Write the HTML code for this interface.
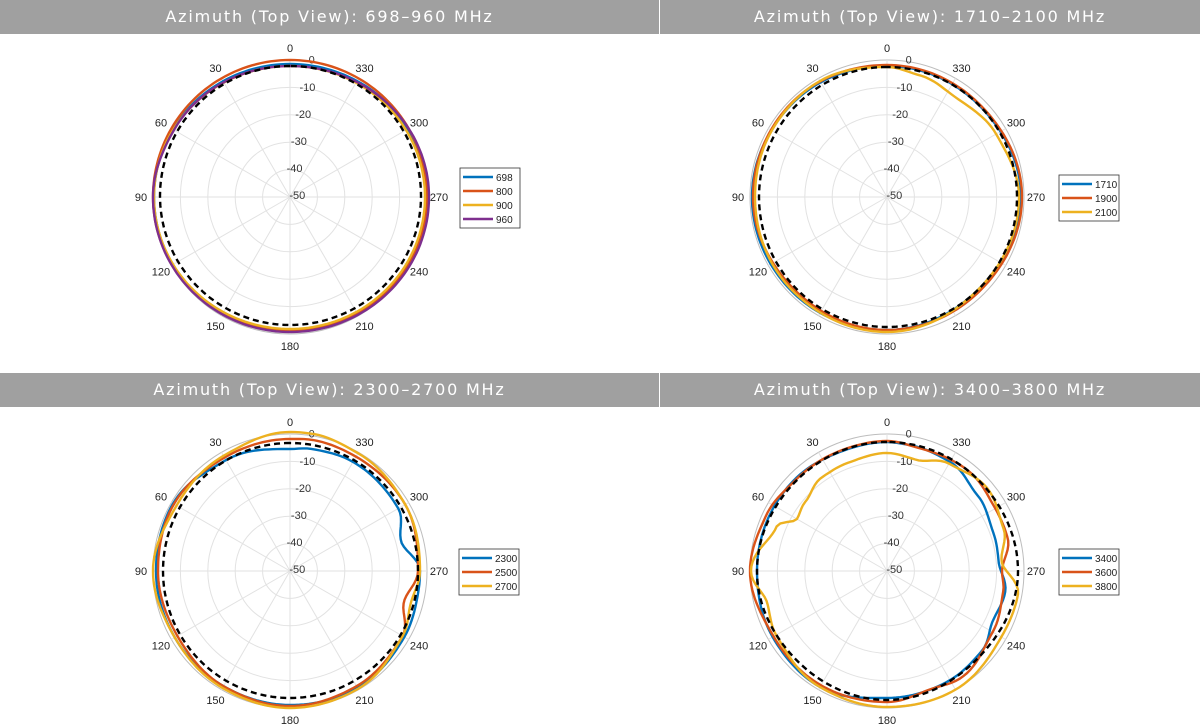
<!DOCTYPE html>
<html><head><meta charset="utf-8">
<style>
body{margin:0;background:#fff;width:1200px;height:728px;overflow:hidden;font-family:"Liberation Sans",Arial,sans-serif}
.h{position:absolute;height:34px;background:#a0a0a0;color:#fff;font-family:"DejaVu Sans","Liberation Sans",sans-serif;font-size:16px;letter-spacing:1.8px;line-height:34px;text-align:center}
svg{position:absolute;left:0;top:0}
</style></head><body>
<div class="h" style="left:0;top:0;width:659px">Azimuth (Top View): 698–960 MHz</div>
<div class="h" style="left:660px;top:0;width:540px">Azimuth (Top View): 1710–2100 MHz</div>
<div class="h" style="left:0;top:373px;width:659px">Azimuth (Top View): 2300–2700 MHz</div>
<div class="h" style="left:660px;top:373px;width:540px">Azimuth (Top View): 3400–3800 MHz</div>
<svg id="s" width="1200" height="728" xmlns="http://www.w3.org/2000/svg"></svg>
<script>
const NS="http://www.w3.org/2000/svg";const S=document.getElementById('s');
function el(t,a,txt){const e=document.createElementNS(NS,t);for(const k in a)e.setAttribute(k,a[k]);if(txt!=null)e.textContent=txt;S.appendChild(e);return e;}
const C={b:'#0072BD',o:'#D95319',y:'#EDB120',p:'#7E2F8E'};
function grid(cx,cy){
 const R=137;
 for(let k=1;k<=4;k++)el('circle',{cx,cy,r:k*27.4,fill:'none',stroke:'#e2e2e2','stroke-width':1});
 el('circle',{cx,cy,r:R,fill:'none',stroke:'#bdbdbd','stroke-width':1});
 for(let a=0;a<360;a+=30){const t=a*Math.PI/180;
  el('line',{x1:cx,y1:cy,x2:cx-R*Math.sin(t),y2:cy-R*Math.cos(t),stroke:'#e2e2e2','stroke-width':1});
  const lr=149;el('text',{x:cx-lr*Math.sin(t),y:cy-lr*Math.cos(t)+4,'text-anchor':'middle','font-size':11,fill:'#222'},a);}
 for(let k=0;k<=5;k++){const r=137-k*27.4;const t=-9*Math.PI/180;
  el('text',{x:cx-(r+2)*Math.sin(t)+ (k==5?7:0),y:cy-(r+2)*Math.cos(t)+4,'text-anchor':'middle','font-size':11,fill:'#333'},k==0?'0':'-'+k*10);}
}
// pts: array of [angleDeg, radius]; smooth periodic interpolation
function curve(cx,cy,pts,col,dash,dx=0,dy=0){
 pts=pts.slice().sort((a,b)=>a[0]-b[0]);
 const n=pts.length;let d='';
 for(let a=0;a<=360;a+=2){
  let i=0;while(i<n-1&&pts[i+1][0]<=a)i++;
  let a0=pts[i][0],r0=pts[i][1],j=(i+1)%n,a1=pts[j][0],r1=pts[j][1];
  if(a<a0){j=i;i=n-1;a0=pts[i][0]-360;r0=pts[i][1];a1=pts[j][0];r1=pts[j][1];}
  if(a1<=a0)a1+=360;
  const f=(a-a0)/(a1-a0),g=(1-Math.cos(Math.PI*f))/2;const r=r0+(r1-r0)*g;
  const t=a*Math.PI/180;d+=(a?'L':'M')+(cx+dx-r*Math.sin(t)).toFixed(1)+','+(cy+dy-r*Math.cos(t)).toFixed(1);
 }
 const at={d,fill:'none',stroke:col,'stroke-width':dash?2.4:2.4};
 if(dash)at['stroke-dasharray']='6,4';
 el('path',at);
}
function circ(r){return [[0,r],[90,r],[180,r],[270,r]];}
function legend(x,y,items){
 const h=items.length*14+4;
 el('rect',{x,y,width:60,height:h,fill:'#fff',stroke:'#333','stroke-width':0.8});
 items.forEach((it,i)=>{const yy=y+9+i*14;el('line',{x1:x+3,y1:yy,x2:x+33,y2:yy,stroke:it[1],'stroke-width':2.4});
  el('text',{x:x+36,y:yy+4,'font-size':10,fill:'#222'},it[0]);});
}
// Panel 1
grid(290,197);
curve(290,197,[[0,133],[90,136],[180,133],[270,137]],C.b);
curve(290,197,[[0,137],[90,137],[180,134],[270,137]],C.o);
curve(290,197,[[0,131],[90,136],[180,132],[270,135]],C.y);
curve(290,197,[[0,131],[60,134],[90,137],[180,135],[270,139]],C.p);
curve(290,197,[[0,130],[90,130],[180,129],[270,131]],'#000',1,0,-1);
legend(460,168,[['698',C.b],['800',C.o],['900',C.y],['960',C.p]]);
// Panel 2
grid(887,197);
curve(887,197,[[0,131],[45,133],[90,135],[135,134],[180,133],[225,130],[270,134],[315,130]],C.b);
curve(887,197,[[0,132],[45,134],[90,134],[135,131],[180,133],[225,132],[270,135],[315,131]],C.o);
curve(887,197,[[0,130],[30,134],[60,133],[90,132],[135,133],[180,135],[225,130],[270,132],[300,126],[325,121],[345,126]],C.y);
curve(887,197,[[0,130],[90,128],[180,130],[270,130]],'#000',1);
legend(1059,175,[['1710',C.b],['1900',C.o],['2100',C.y]]);
// Panel 3
grid(290,571);
curve(290,571,[[0,122],[30,128],[60,135],[90,134],[120,133],[150,133],[180,134],[210,135],[240,132],[260,130],[270,130],[285,115],[300,125],[330,126],[350,124]],C.b);
curve(290,571,[[0,132],[30,131],[60,134],[90,132],[120,130],[150,133],[180,135],[210,133],[240,130],[255,118],[270,128],[300,133],[330,132],[350,133]],C.o);
curve(290,571,[[0,139],[30,133],[60,131],[90,137],[120,133],[150,135],[180,137],[210,136],[240,130],[255,125],[270,130],[300,133],[330,136],[350,139]],C.y);
curve(290,571,[[0,128],[90,127],[180,127],[270,128]],'#000',1);
legend(459,549,[['2300',C.b],['2500',C.o],['2700',C.y]]);
// Panel 4
grid(887,571);
curve(887,571,[[0,129],[20,128],[45,130],[65,130],[90,130],[120,132],[150,134],[180,127],[210,126],[230,124],[245,117],[260,120],[275,112],[290,113],[310,118],[330,126],[350,128]],C.b);
curve(887,571,[[0,130],[20,129],[45,129],[65,133],[90,137],[120,131],[150,132],[180,131],[200,126],[215,130],[240,122],[260,118],[270,115],[285,125],[300,125],[320,129],[345,127]],C.o);
curve(887,571,[[0,118],[20,115],[35,114],[50,107],[60,104],[68,119],[90,136],[105,124],[120,128],[150,134],[180,136],[210,137],[240,132],[260,133],[275,115],[290,124],[310,130],[330,124],[345,115]],C.y);
curve(887,571,[[0,129],[45,128],[90,130],[135,127],[180,129],[225,126],[270,131],[315,129]],'#000',1);
legend(1059,549,[['3400',C.b],['3600',C.o],['3800',C.y]]);
</script>
</body></html>
